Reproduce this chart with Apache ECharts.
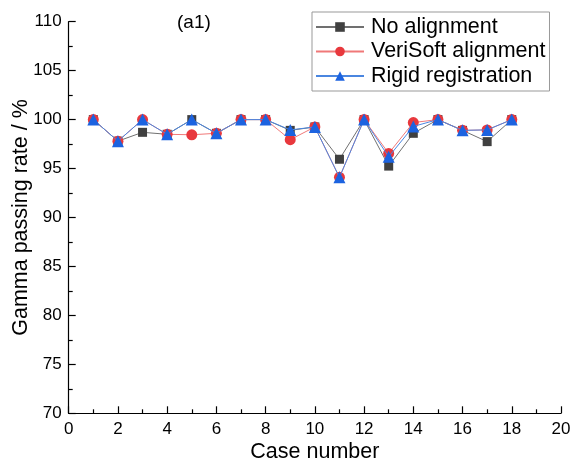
<!DOCTYPE html>
<html><head><meta charset="utf-8">
<script src="https://cdn.jsdelivr.net/npm/echarts@6/dist/echarts.min.js"></script>
<style>html,body{margin:0;padding:0;background:#fff}#c{width:571px;height:464px}</style>
</head><body><div id="c"></div>
<script>
var cases = [1,2,3,4,5,6,7,8,9,10,11,12,13,14,15,16,17,18];
var noAlignment = [100,97.8,98.7,98.5,100,98.6,100,100,98.9,99.25,95.95,100,95.25,98.6,100,98.9,97.75,100];
var veriSoft =    [100,97.8,100,98.5,98.45,98.6,100,100,97.95,99.25,94.1,100,96.55,99.7,100,98.9,98.95,100];
var rigid =       [100,97.8,100,98.5,100,98.6,100,100,98.95,99.25,94.1,100,96.2,99.3,100,98.9,98.95,100];
var seriesNames = ['No alignment','VeriSoft alignment','Rigid registration'];

function pts(v){ return cases.map(function(c,i){ return [c, v[i]]; }); }
var font = 'Liberation Sans, Arial, sans-serif';
var chart = echarts.init(document.getElementById('c'), null, {renderer:'canvas'});
var axisCommon = {
  axisLine:{show:true, lineStyle:{color:'#000', width:1.2}},
  axisTick:{show:true, inside:true, length:7, lineStyle:{color:'#000', width:1.2}},
  minorTick:{show:true, splitNumber:2, length:4, lineStyle:{color:'#000', width:1.2}},
  splitLine:{show:false}
};
chart.setOption({
  animation:false,
  title:{text:'(a1)', left:172, top:8, textStyle:{fontSize:19, fontWeight:'normal', color:'#000', fontFamily:font}},
  grid:{left:68.7, right:10, top:21.7, bottom:50.7, containLabel:false, outerBoundsMode:'none'},
  legend:{
    data:seriesNames, orient:'vertical', left:312, top:12,
    padding:[4,4,4,3], itemGap:2.5, itemWidth:48, itemHeight:12,
    borderColor:'#999', borderWidth:1,
    textStyle:{fontSize:21.5, color:'#000', fontFamily:font, lineHeight:22, padding:[0,0,0,2]}
  },
  xAxis:Object.assign({type:'value', min:0, max:20, interval:2,
    name:'Case number', nameLocation:'middle', nameGap:28, nameMoveOverlap:false,
    nameTextStyle:{fontSize:21.5, color:'#000', fontFamily:font}}, axisCommon,
    {axisLabel:{color:'#000', fontSize:17, fontFamily:font, margin:8}}),
  yAxis:Object.assign({type:'value', min:70, max:110, interval:5,
    name:'Gamma passing rate / %', nameLocation:'middle', nameGap:37, nameMoveOverlap:false,
    nameTextStyle:{fontSize:21.5, color:'#000', fontFamily:font}}, axisCommon,
    {axisLabel:{color:'#000', fontSize:17, fontFamily:font, margin:7}}),
  series:[
    {name:seriesNames[0], type:'line', data:pts(noAlignment), symbol:'rect', symbolSize:9, z:2,
     lineStyle:{color:'#707070', width:1}, itemStyle:{color:'#404040'}},
    {name:seriesNames[1], type:'line', data:pts(veriSoft), symbol:'circle', symbolSize:11, z:3,
     lineStyle:{color:'#f07878', width:1}, itemStyle:{color:'#e8383d'}},
    {name:seriesNames[2], type:'line', data:pts(rigid), symbol:'triangle', symbolSize:12, z:4,
     lineStyle:{color:'#4a86e0', width:1}, itemStyle:{color:'#1c63e0'}}
  ]
});
</script></body></html>
